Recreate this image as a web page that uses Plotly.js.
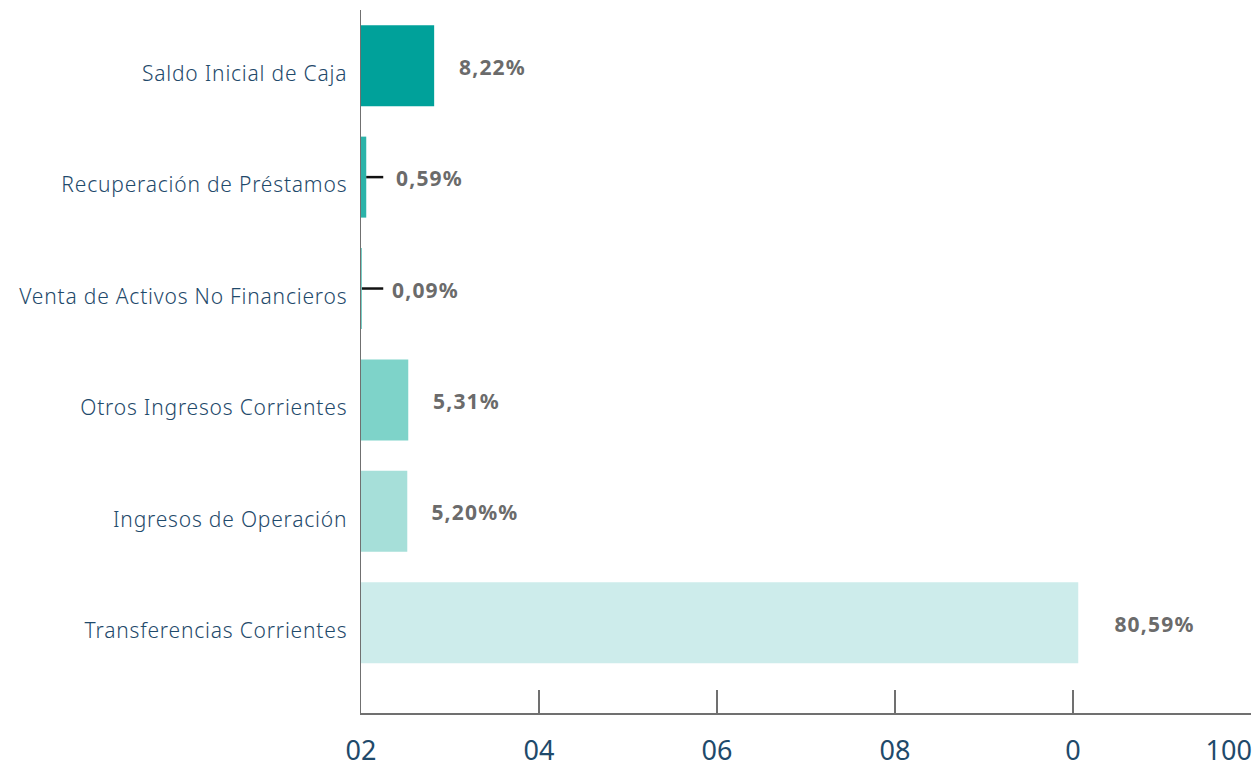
<!DOCTYPE html>
<html>
<head>
<meta charset="utf-8">
<script src="https://cdn.plot.ly/plotly-3.0.1.min.js"></script>
<style>
html,body{margin:0;padding:0;background:#fff;}
#chart{width:1255px;height:768px;}
#chart .ytick text{letter-spacing:0.8px;}
#chart .annotation-text{letter-spacing:1.2px;}
</style>
</head>
<body>
<div id="chart"></div>
<script>
const categories = ['Saldo Inicial de Caja','Recuperación de Préstamos','Venta de Activos No Financieros','Otros Ingresos Corrientes','Ingresos de Operación','Transferencias Corrientes'];
const values = [8.22, 0.59, 0.09, 5.31, 5.20, 80.59];
const valueLabels = ['8,22%','0,59%','0,09%','5,31%','5,20%%','80,59%'];
const barColors = ['#00A19A','#2BB3A9','#55C3B9','#7ED3C9','#A6DFD9','#CDECEB'];
const tickVals = [0,20,40,60,80,100];
const tickText = ['02','04','06','08','0','100'];
const tickTextPos = [0,20,40,60,80,97.5];

const labelFont = {family:'"Noto Sans", sans-serif', size:21, color:'#6b6b6b', weight:800};
const annotations = categories.map((c,i)=>({
  x: values[i], y: c, xref:'x', yref:'y', text:'<b>'+valueLabels[i]+'</b>',
  showarrow:false, xanchor:'left', xshift: values[i] < 1 ? 31 : (values[i] > 50 ? 38 : 26), yshift:-1,
  font: labelFont
}));
const shapes = categories.map((c,i)=> values[i] < 1 ? ({
  type:'line', xref:'x', yref:'y', x0: Math.max(values[i],0.1), x1: 2.5, y0: c, y1: c,
  line:{color:'#111', width:2.5}
}) : null).filter(Boolean);

const data = [{
  type:'bar', orientation:'h', x: values, y: categories,
  marker:{color: barColors}, hoverinfo:'none', cliponaxis:false
},{
  type:'scatter', mode:'markers', x:[0], y:[categories[0]], xaxis:'x2', yaxis:'y',
  marker:{opacity:0}, hoverinfo:'none', showlegend:false
}];

const layout = {
  width:1255, height:768,
  margin:{l:361, r:4, t:10, b:55},
  paper_bgcolor:'#fff', plot_bgcolor:'#fff',
  showlegend:false,
  bargap:0.273,
  xaxis:{range:[0,100], tickvals:tickVals, showticklabels:false, ticks:'inside', ticklen:23, tickwidth:1.5, tickcolor:'#707070',
         showline:true, linecolor:'#707070', linewidth:1.5, showgrid:false, zeroline:false, fixedrange:true},
  xaxis2:{range:[0,100], overlaying:'x', anchor:'y', side:'bottom', tickvals:tickTextPos, ticktext:tickText, ticks:'',
          showline:false, showgrid:false, zeroline:false, tickfont:{family:'"Noto Sans", sans-serif', size:27, color:'#1F4A6B'}, ticklabelstandoff:19},
  yaxis:{type:'category', categoryorder:'array', categoryarray:categories, range:[5.81,-0.5],
         showline:true, linecolor:'#707070', linewidth:1.5, showgrid:false, zeroline:false,
         ticks:'outside', ticklen:8, tickcolor:'rgba(0,0,0,0)', ticklabelshift:-8,
         tickfont:{family:'"Noto Sans", sans-serif', size:21, color:'#1F4A6B', weight:300}},
  annotations: annotations,
  shapes: shapes
};
Plotly.newPlot('chart', data, layout, {displayModeBar:false, staticPlot:true});
</script>
</body>
</html>
